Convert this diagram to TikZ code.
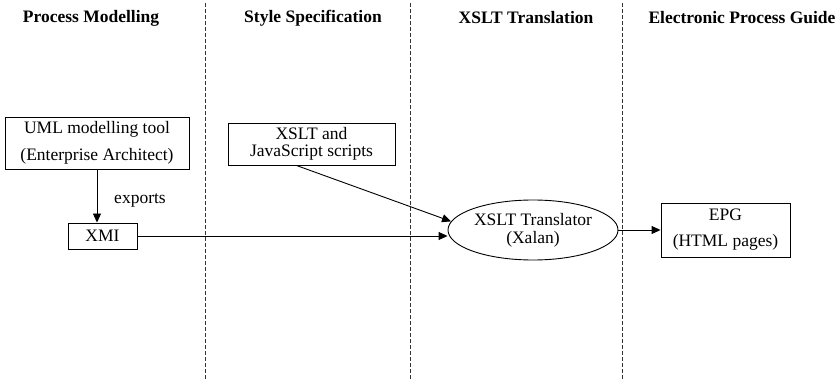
\documentclass[tikz,border=0pt]{standalone}
\usepackage{fontspec}
\setmainfont{Liberation Serif}
\usetikzlibrary{shapes.geometric,arrows.meta,calc}
\begin{document}
\begin{tikzpicture}[x=1pt,y=-1pt,
  every node/.style={font=\fontsize{17.5}{19}\selectfont, inner sep=0pt},
  header/.style={font=\fontsize{17.5}{19}\selectfont\bfseries},
  lane/.style={draw=black!80, line width=0.9pt, dash pattern=on 4pt off 2pt},
  boxnode/.style={draw, line width=0.9pt, align=center, rectangle},
  flow/.style={draw, line width=0.9pt, -{Triangle[length=9pt,width=8pt]}}]
  \useasboundingbox (0,0) rectangle (840,379);

  % lane titles
  \node[header] (h1) at (91,18) {Process Modelling};
  \node[header] (h2) at (313,18) {Style Specification};
  \node[header] (h3) at (526,18) {XSLT Translation};
  \node[header] (h4) at (742,18) {Electronic Process Guide};

  % lane separators
  \coordinate (s1t) at (205,3);   \coordinate (s1b) at (205,379);
  \coordinate (s2t) at (410,3);   \coordinate (s2b) at (410,379);
  \coordinate (s3t) at (622,3);   \coordinate (s3b) at (622,379);
  \draw[lane] (s1t) -- (s1b);
  \draw[lane] (s2t) -- (s2b);
  \draw[lane] (s3t) -- (s3b);

  % components
  \node[boxnode, minimum width=184pt, minimum height=52pt,
        font=\fontsize{17.5}{27}\selectfont] (uml) at (97,143)
        {UML modelling tool\\(Enterprise Architect)};
  \node[boxnode, minimum width=69pt, minimum height=26pt] (xmi) at (102.5,236) {XMI};
  \node[boxnode, minimum width=167pt, minimum height=42pt,
        font=\fontsize{17.5}{17}\selectfont] (xslt) at (311.5,144)
        {XSLT and\\JavaScript scripts};
  \node[draw, ellipse, line width=0.9pt, minimum width=170pt, minimum height=60pt,
        align=center, font=\fontsize{17.5}{18}\selectfont] (ell) at (533,230)
        {XSLT Translator\\(Xalan)};
  \node[boxnode, minimum width=129pt, minimum height=54pt,
        font=\fontsize{17.5}{26}\selectfont] (epg) at (725.5,230)
        {EPG\\(HTML pages)};

  % connectors
  \draw[flow] (uml.south) -- (uml.south |- xmi.north);
  \node (lbl) at (140,200) {exports};
  \draw[flow] ($(xslt.south west)!0.41!(xslt.south east)$) -- (ell.174);
  \draw[flow] (xmi.east) -- (xmi.east -| ell.west);
  \draw[flow] (ell.east) -- (epg.west);
\end{tikzpicture}
\end{document}
